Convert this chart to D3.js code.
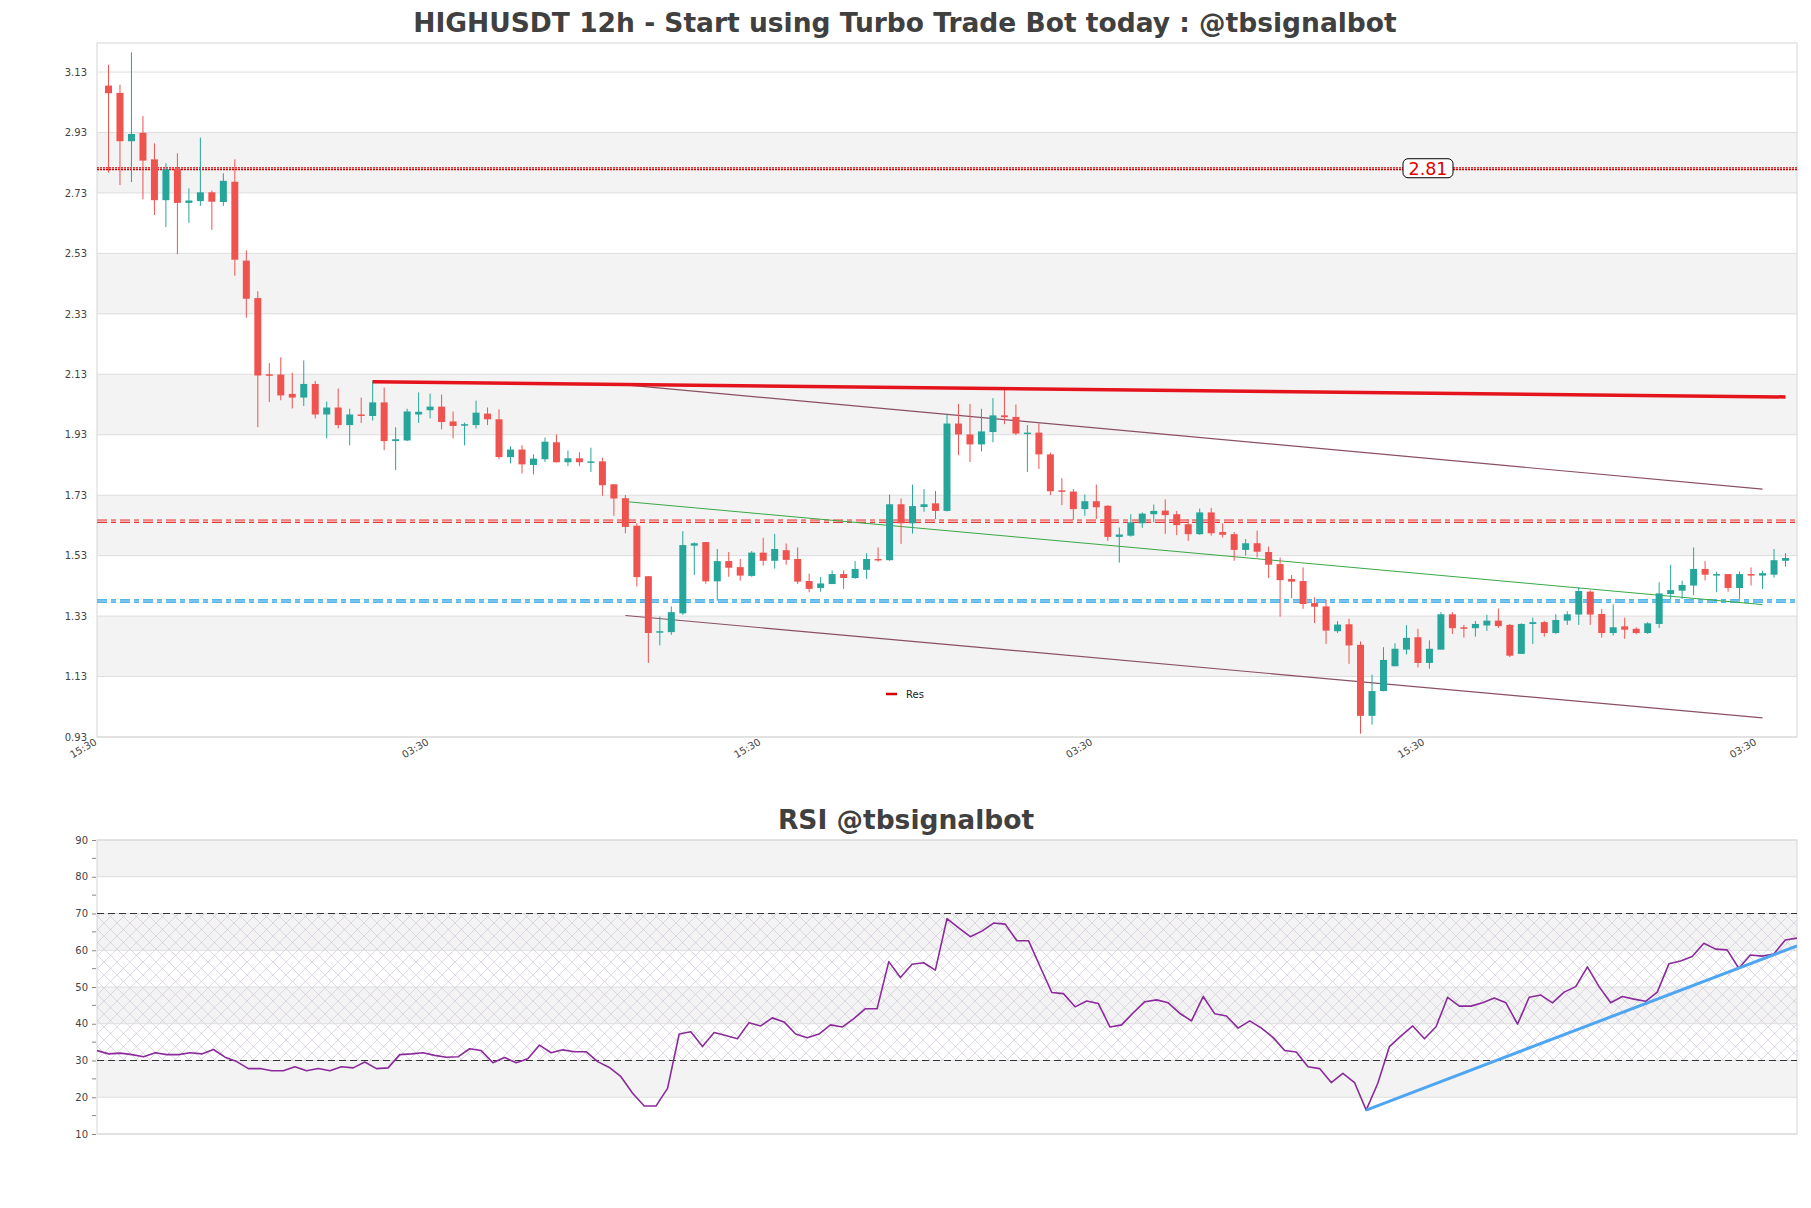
<!DOCTYPE html>
<html><head><meta charset="utf-8">
<script src="https://cdn.jsdelivr.net/npm/d3@7"></script>
<style>
body{margin:0;background:#fff;}
svg{display:block;font-family:"DejaVu Sans",sans-serif;}
</style>
</head><body>
<svg id="c" width="1811" height="1208"></svg>
<script>
// ---------------- DATA ----------------
const opens  = [3.085,3.061,2.901,2.929,2.841,2.706,2.810,2.697,2.703,2.732,2.700,2.767,2.506,2.382,2.130,2.129,2.065,2.053,2.098,1.997,
2.020,1.962,1.997,1.992,2.037,1.909,1.911,1.997,2.011,2.023,1.974,1.960,1.962,2.000,1.981,1.856,1.881,1.830,1.849,1.905,
1.839,1.852,1.838,1.842,1.766,1.720,1.629,1.462,1.276,1.277,1.339,1.563,1.575,1.445,1.512,1.492,1.463,1.540,1.513,1.548,
1.519,1.446,1.423,1.436,1.469,1.456,1.483,1.519,1.515,1.700,1.637,1.691,1.703,1.678,1.967,1.931,1.898,1.939,1.994,1.989,
1.934,1.937,1.865,1.746,1.742,1.684,1.710,1.695,1.592,1.596,1.637,1.667,1.679,1.667,1.634,1.601,1.673,1.608,1.601,1.549,
1.571,1.542,1.502,1.453,1.446,1.373,1.362,1.280,1.303,1.235,1.000,1.082,1.164,1.219,1.260,1.175,1.219,1.336,1.293,1.290,
1.299,1.315,1.301,1.205,1.304,1.310,1.274,1.315,1.335,1.411,1.337,1.274,1.296,1.288,1.274,1.304,1.403,1.414,1.431,1.486,
1.464,1.469,1.423,1.469,1.464,1.467,1.513];
const highs  = [3.154,3.088,3.195,2.984,2.894,2.828,2.861,2.745,2.913,2.738,2.795,2.841,2.540,2.405,2.167,2.186,2.135,2.176,2.108,2.040,
2.083,2.016,2.053,2.109,2.086,1.955,2.016,2.070,2.066,2.063,2.007,1.970,2.043,2.020,2.014,1.892,1.895,1.865,1.921,1.931,
1.878,1.872,1.887,1.854,1.766,1.731,1.637,1.462,1.329,1.362,1.611,1.574,1.575,1.552,1.542,1.519,1.545,1.589,1.602,1.570,
1.557,1.471,1.459,1.481,1.481,1.512,1.538,1.557,1.732,1.719,1.765,1.750,1.744,1.998,2.032,2.032,2.016,2.051,2.084,2.030,
1.962,1.967,1.871,1.786,1.750,1.732,1.765,1.697,1.623,1.667,1.673,1.699,1.716,1.678,1.651,1.686,1.688,1.637,1.608,1.585,
1.613,1.560,1.524,1.466,1.491,1.392,1.384,1.313,1.321,1.246,1.136,1.227,1.240,1.300,1.288,1.250,1.343,1.343,1.301,1.314,
1.334,1.355,1.304,1.306,1.325,1.314,1.336,1.346,1.425,1.415,1.354,1.369,1.325,1.293,1.310,1.442,1.500,1.447,1.557,1.512,
1.477,1.469,1.478,1.491,1.480,1.552,1.538];
const lows   = [2.797,2.756,2.766,2.709,2.657,2.617,2.527,2.631,2.687,2.608,2.687,2.456,2.317,1.955,2.038,2.044,2.017,2.025,1.984,1.918,
1.951,1.895,1.969,1.977,1.879,1.813,1.909,1.969,1.984,1.948,1.918,1.895,1.951,1.962,1.849,1.835,1.802,1.799,1.840,1.838,
1.826,1.826,1.807,1.728,1.662,1.604,1.428,1.175,1.233,1.268,1.334,1.466,1.437,1.381,1.460,1.447,1.460,1.497,1.487,1.500,
1.436,1.409,1.411,1.436,1.420,1.453,1.453,1.510,1.513,1.569,1.603,1.675,1.651,1.676,1.862,1.840,1.875,1.905,1.965,1.929,
1.807,1.817,1.730,1.697,1.648,1.662,1.651,1.579,1.507,1.593,1.622,1.640,1.602,1.598,1.579,1.599,1.596,1.590,1.513,1.530,
1.524,1.456,1.328,1.390,1.354,1.307,1.238,1.274,1.172,0.941,0.971,1.081,1.164,1.203,1.160,1.156,1.219,1.271,1.259,1.262,
1.281,1.291,1.194,1.205,1.238,1.262,1.271,1.301,1.301,1.301,1.259,1.266,1.255,1.270,1.271,1.291,1.387,1.387,1.400,1.448,
1.409,1.411,1.387,1.431,1.420,1.457,1.494];
const closes = [3.060,2.901,2.925,2.837,2.706,2.808,2.697,2.705,2.732,2.701,2.770,2.509,2.380,2.126,2.126,2.060,2.053,2.098,1.997,2.020,
1.962,1.997,1.993,2.037,1.909,1.915,2.007,2.006,2.023,1.972,1.959,1.965,2.003,1.981,1.856,1.881,1.832,1.851,1.907,1.839,
1.852,1.839,1.842,1.763,1.719,1.625,1.459,1.274,1.280,1.343,1.565,1.571,1.445,1.512,1.490,1.464,1.540,1.513,1.552,1.516,
1.444,1.420,1.438,1.469,1.456,1.486,1.519,1.515,1.700,1.637,1.694,1.700,1.678,1.967,1.931,1.898,1.941,1.994,1.988,1.934,
1.937,1.865,1.743,1.742,1.684,1.710,1.690,1.592,1.600,1.640,1.669,1.678,1.664,1.631,1.601,1.673,1.604,1.599,1.549,1.571,
1.543,1.500,1.449,1.444,1.370,1.361,1.282,1.302,1.233,1.000,1.082,1.185,1.222,1.258,1.175,1.222,1.336,1.290,1.290,1.304,
1.315,1.297,1.199,1.304,1.310,1.274,1.317,1.336,1.413,1.335,1.274,1.293,1.285,1.274,1.306,1.405,1.416,1.433,1.486,1.467,
1.469,1.423,1.469,1.464,1.472,1.515,1.522];

const rsiValues = [32.7,31.8,32.0,31.6,31.0,32.1,31.6,31.6,32.1,31.8,33.0,30.9,29.7,27.8,27.8,27.2,27.2,28.3,27.2,27.8,
27.2,28.3,28.0,29.6,27.8,28.0,31.6,31.8,32.1,31.4,30.9,31.0,33.2,32.7,29.4,30.8,29.4,30.5,34.2,32.1,
32.9,32.4,32.4,29.7,28.1,25.6,21.1,17.6,17.6,22.4,37.2,37.8,33.8,37.6,36.8,35.9,40.3,39.4,41.6,40.5,
37.2,36.2,37.2,39.7,39.1,41.4,44.1,44.1,56.9,52.6,56.2,56.6,54.6,68.6,66.1,63.7,65.2,67.4,67.1,62.6,
62.6,55.5,48.5,48.2,44.6,46.2,45.5,39.1,39.7,43.0,46.0,46.5,45.7,42.8,40.8,47.4,42.7,42.1,38.8,40.8,
38.8,36.3,32.7,32.3,28.3,27.8,24.0,26.5,24.0,16.5,23.8,33.8,36.7,39.4,35.9,39.2,47.2,44.8,44.8,45.7,
47.0,45.7,39.9,47.2,47.8,45.7,48.6,50.1,55.5,50.1,45.7,47.4,46.7,46.1,48.6,56.3,57.1,58.3,61.9,60.3,
60.1,55.1,58.7,58.4,59.0,62.8,63.3];

const priceTicks = [0.93,1.13,1.33,1.53,1.73,1.93,2.13,2.33,2.53,2.73,2.93,3.13];
const timeTickLabels = ["15:30","03:30","15:30","03:30","15:30","03:30"];
const timeTickIndex = [-1,27.9,56.8,85.7,114.6,143.5];
const rsiTicks = [10,20,30,40,50,60,70,80,90];
const rsiMinorTicks = [15,25,35,45,55,65,75,85];

const labelLevel = 2.81;
const redLevel = 1.644;
const blueLevel = 1.38;
const resLine   = [[23,2.105],[146,2.055]];
const chanUpper = [[45,2.095],[144,1.750]];
const chanMid   = [[45,1.709],[144,1.368]];
const chanLower = [[45,1.332],[144,0.993]];
const rsiTrend  = [[109,16.5],[146,61.2]];
const rsiBounds = [30,70];

// ---------------- LAYOUT ----------------
const svg = d3.select("#c");
const L = 97, R = 1797;
const mTop = 43, mBot = 737;
const rTop = 840, rBot = 1134;
const GREEN = "#26a69a", RED = "#ef5350";

const x = d3.scaleLinear().domain([-1,147]).range([L,R]);
const y = d3.scaleLinear().domain([0.93,3.226]).range([mBot,mTop]);
const xr = d3.scaleLinear().domain([0,146]).range([L,R]);
const yr = d3.scaleLinear().domain([10,90]).range([rBot,rTop]);

const defs = svg.append("defs");
const pat = defs.append("pattern").attr("id","hatch").attr("patternUnits","userSpaceOnUse")
  .attr("width",13).attr("height",13);
pat.append("path").attr("d","M0,0L13,13M13,0L0,13").attr("stroke","#d3cadb").attr("stroke-width",0.7).attr("fill","none");
pat.append("circle").attr("cx",6.5).attr("cy",6.5).attr("r",0.8).attr("fill","#d8d0de");
defs.append("clipPath").attr("id","mclip").append("rect").attr("x",L).attr("y",mTop).attr("width",R-L).attr("height",mBot-mTop);
defs.append("clipPath").attr("id","rclip").append("rect").attr("x",L).attr("y",rTop).attr("width",R-L).attr("height",rBot-rTop);

// Titles
svg.append("text").attr("x",905).attr("y",32).attr("text-anchor","middle")
  .attr("font-size","26.5px").attr("font-weight","bold").attr("fill","#404040")
  .text("HIGHUSDT 12h - Start using Turbo Trade Bot today : @tbsignalbot");
svg.append("text").attr("x",906).attr("y",829).attr("text-anchor","middle")
  .attr("font-size","26.5px").attr("font-weight","bold").attr("fill","#404040")
  .text("RSI @tbsignalbot");

// ---------------- MAIN PANEL ----------------
const main = svg.append("g");
main.append("rect").attr("x",L).attr("y",mTop).attr("width",R-L).attr("height",mBot-mTop).attr("fill","#fff");
main.selectAll("rect.band").data(d3.range(priceTicks.length-1)).join("rect")
  .attr("x",L).attr("width",R-L)
  .attr("y",i=>y(priceTicks[i+1])).attr("height",i=>y(priceTicks[i])-y(priceTicks[i+1]))
  .attr("fill",i=> i%2===1 ? "#f3f3f3" : "#ffffff");
main.selectAll("line.grid").data(priceTicks).join("line")
  .attr("x1",L).attr("x2",R).attr("y1",d=>y(d)).attr("y2",d=>y(d))
  .attr("stroke","#dddddd").attr("stroke-width",1);
main.append("rect").attr("x",L).attr("y",mTop).attr("width",R-L).attr("height",mBot-mTop)
  .attr("fill","none").attr("stroke","#d6d6d6");

const yAxis = d3.axisLeft(y).tickValues(priceTicks).tickFormat(d3.format(".2f")).tickSize(0).tickPadding(10);
const ya = main.append("g").attr("transform",`translate(${L},0)`).call(yAxis);
ya.select(".domain").remove();
ya.selectAll("text").attr("font-size","10px").attr("fill","#444").attr("font-family","DejaVu Sans");

const xAxis = d3.axisBottom(x).tickValues(timeTickIndex).tickFormat((d,i)=>timeTickLabels[i]).tickSize(0);
const xa = main.append("g").attr("transform",`translate(0,${mBot})`).call(xAxis);
xa.select(".domain").remove();
xa.selectAll("text").attr("font-size","10px").attr("fill","#444").attr("font-family","DejaVu Sans")
  .attr("text-anchor","end").attr("dy",0).attr("y",0)
  .attr("transform","translate(0,7) rotate(-30)");

const plot = main.append("g").attr("clip-path","url(#mclip)");

// horizontal levels (outlined dashes)
function outlinedDash(v,color,inner){
  plot.append("line").attr("x1",L).attr("x2",R).attr("y1",y(v)).attr("y2",y(v))
    .attr("stroke",color).attr("stroke-width",3.6).attr("stroke-dasharray","10,4,5,4");
  plot.append("line").attr("x1",L).attr("x2",R).attr("y1",y(v)).attr("y2",y(v))
    .attr("stroke",inner).attr("stroke-width",1.2).attr("stroke-dasharray","10,4,5,4");
}
outlinedDash(redLevel,"#e53935","#fbd4d3");
outlinedDash(blueLevel,"#1e9ee3","#cfeafa");
[-0.8,0.8].forEach(o=>{
  plot.append("line").attr("x1",L).attr("x2",R).attr("y1",y(labelLevel)+o).attr("y2",y(labelLevel)+o)
    .attr("stroke","#d80000").attr("stroke-width",1.2).attr("stroke-dasharray","2,1");
});

// trend lines
const line = d3.line().x(d=>x(d[0])).y(d=>y(d[1]));
plot.append("path").attr("d",line(chanUpper)).attr("stroke","#8a4f63").attr("stroke-width",1.2).attr("fill","none");
plot.append("path").attr("d",line(chanLower)).attr("stroke","#8a4f63").attr("stroke-width",1.2).attr("fill","none");
plot.append("path").attr("d",line(chanMid)).attr("stroke","#3aa845").attr("stroke-width",1).attr("fill","none");

// candles
const idx = d3.range(opens.length);
const cg = plot.append("g");
cg.selectAll("line.wick").data(idx).join("line")
  .attr("x1",i=>x(i)).attr("x2",i=>x(i)).attr("y1",i=>y(highs[i])).attr("y2",i=>y(lows[i]))
  .attr("stroke",i=>closes[i]>=opens[i]?GREEN:RED).attr("stroke-width",1);
cg.selectAll("rect.body").data(idx).join("rect")
  .attr("x",i=>x(i)-3.5).attr("width",7)
  .attr("y",i=>y(Math.max(opens[i],closes[i])))
  .attr("height",i=>Math.max(1.5,Math.abs(y(opens[i])-y(closes[i]))))
  .attr("fill",i=>closes[i]>=opens[i]?GREEN:RED);

// resistance line
plot.append("path").attr("d",line(resLine)).attr("stroke","#e5141c").attr("stroke-width",3.5).attr("fill","none");

// 2.81 label
const lx = 1428, ly = y(labelLevel);
main.append("rect").attr("x",lx-25).attr("y",ly-10).attr("width",50).attr("height",19)
  .attr("rx",5).attr("fill","#fff").attr("stroke","#000").attr("stroke-width",1);
main.append("text").attr("x",lx).attr("y",ly+6.5).attr("text-anchor","middle")
  .attr("font-size","17.5px").attr("fill","#e00000").text(d3.format(".2f")(labelLevel));

// legend
main.append("line").attr("x1",886).attr("x2",897).attr("y1",694).attr("y2",694).attr("stroke","#d40000").attr("stroke-width",2.5);
main.append("text").attr("x",906).attr("y",697.5).attr("font-size","10px").attr("fill","#222").text("Res");

// ---------------- RSI PANEL ----------------
const rp = svg.append("g");
rp.selectAll("rect.band").data(d3.range(rsiTicks.length-1)).join("rect")
  .attr("x",L).attr("width",R-L)
  .attr("y",i=>yr(rsiTicks[i+1])).attr("height",i=>yr(rsiTicks[i])-yr(rsiTicks[i+1]))
  .attr("fill",i=> i%2===1 ? "#f3f3f3" : "#ffffff");
rp.append("rect").attr("x",L).attr("width",R-L).attr("y",yr(rsiBounds[1])).attr("height",yr(rsiBounds[0])-yr(rsiBounds[1]))
  .attr("fill","url(#hatch)");
rp.selectAll("line.grid").data(rsiTicks).join("line")
  .attr("x1",L).attr("x2",R).attr("y1",d=>yr(d)).attr("y2",d=>yr(d))
  .attr("stroke","#dddddd");
rp.append("rect").attr("x",L).attr("y",rTop).attr("width",R-L).attr("height",rBot-rTop)
  .attr("fill","none").attr("stroke","#d6d6d6");
rsiBounds.forEach(v=>{
  rp.append("line").attr("x1",L).attr("x2",R).attr("y1",yr(v)).attr("y2",yr(v))
    .attr("stroke","#333").attr("stroke-width",1).attr("stroke-dasharray","7,4");
});
const ra = rp.append("g").attr("transform",`translate(${L-1},0)`)
  .call(d3.axisLeft(yr).tickValues(rsiTicks).tickSize(4).tickPadding(4));
ra.select(".domain").remove();
ra.selectAll("line").attr("stroke","#888");
ra.selectAll("text").attr("font-size","10px").attr("fill","#444").attr("font-family","DejaVu Sans");
rp.selectAll("line.minor").data(rsiMinorTicks).join("line")
  .attr("x1",L-5).attr("x2",L-1).attr("y1",d=>yr(d)).attr("y2",d=>yr(d)).attr("stroke","#888");

const rplot = rp.append("g").attr("clip-path","url(#rclip)");
rplot.append("path").datum(rsiValues)
  .attr("d",d3.line().x((d,i)=>xr(i)).y(d=>yr(d)))
  .attr("fill","none").attr("stroke","#8b2a9b").attr("stroke-width",1.6).attr("stroke-linejoin","round");
rplot.append("path").attr("d",d3.line().x(d=>xr(d[0])).y(d=>yr(d[1]))(rsiTrend))
  .attr("fill","none").attr("stroke","#4ea6f2").attr("stroke-width",3);
</script>
</body></html>
